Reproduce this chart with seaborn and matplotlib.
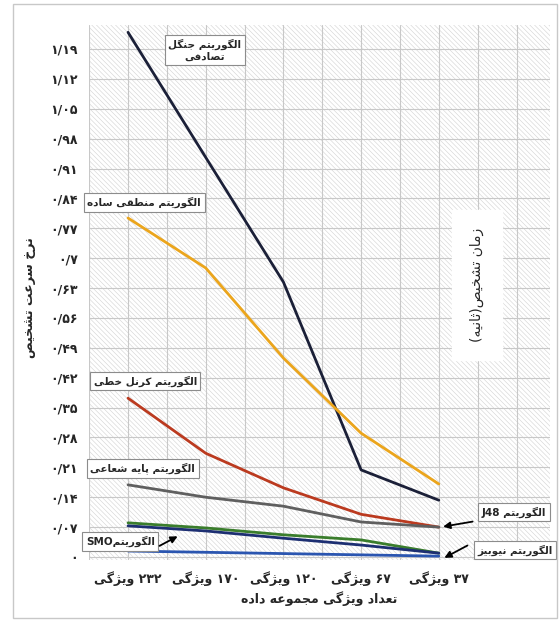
import re
import numpy as np
import pandas as pd
import matplotlib
matplotlib.use('Agg')
import matplotlib.pyplot as plt
import seaborn as sns
from matplotlib.patches import Rectangle

# data
categories = ['۲۳۲ ویژگی', '۱۷۰ ویژگی', '۱۲۰ ویژگی', '۶۷ ویژگی', '۳۷ ویژگی']
random_forest = [1.229, 0.936, 0.644, 0.204, 0.133]
simple_logic = [0.794, 0.677, 0.466, 0.290, 0.171]
linear_kernel = [0.372, 0.243, 0.162, 0.100, 0.070]
radial_basis = [0.169, 0.140, 0.119, 0.082, 0.070]
j48 = [0.080, 0.068, 0.052, 0.040, 0.009]
smo = [0.073, 0.061, 0.044, 0.028, 0.009]
naive_bayes = [0.014, 0.011, 0.008, 0.005, 0.002]
y_ticks = np.arange(0, 1.20, 0.07)
y_tick_labels = ['۰', '۰/۰۷', '۰/۱۴', '۰/۲۱', '۰/۲۸', '۰/۳۵', '۰/۴۲', '۰/۴۹', '۰/۵۶',
                 '۰/۶۳', '۰/۷', '۰/۷۷', '۰/۸۴', '۰/۹۱', '۰/۹۸', '۱/۰۵', '۱/۱۲', '۱/۱۹']

# matplotlib does no arabic shaping / bidi, so do a small version by hand
FORMS = {
    'ا': ('\uFE8D', '\uFE8E', None, None), 'ب': ('\uFE8F', '\uFE90', '\uFE91', '\uFE92'),
    'پ': ('\uFB56', '\uFB57', '\uFB58', '\uFB59'), 'ت': ('\uFE95', '\uFE96', '\uFE97', '\uFE98'),
    'ث': ('\uFE99', '\uFE9A', '\uFE9B', '\uFE9C'), 'ج': ('\uFE9D', '\uFE9E', '\uFE9F', '\uFEA0'),
    'خ': ('\uFEA5', '\uFEA6', '\uFEA7', '\uFEA8'), 'د': ('\uFEA9', '\uFEAA', None, None),
    'ر': ('\uFEAD', '\uFEAE', None, None), 'ز': ('\uFEAF', '\uFEB0', None, None),
    'ژ': ('\uFB8A', '\uFB8B', None, None), 'س': ('\uFEB1', '\uFEB2', '\uFEB3', '\uFEB4'),
    'ش': ('\uFEB5', '\uFEB6', '\uFEB7', '\uFEB8'), 'ص': ('\uFEB9', '\uFEBA', '\uFEBB', '\uFEBC'),
    'ط': ('\uFEC1', '\uFEC2', '\uFEC3', '\uFEC4'), 'ع': ('\uFEC9', '\uFECA', '\uFECB', '\uFECC'),
    'ف': ('\uFED1', '\uFED2', '\uFED3', '\uFED4'), 'ق': ('\uFED5', '\uFED6', '\uFED7', '\uFED8'),
    'ک': ('\uFB8E', '\uFB8F', '\uFB90', '\uFB91'), 'گ': ('\uFB92', '\uFB93', '\uFB94', '\uFB95'),
    'ل': ('\uFEDD', '\uFEDE', '\uFEDF', '\uFEE0'), 'م': ('\uFEE1', '\uFEE2', '\uFEE3', '\uFEE4'),
    'ن': ('\uFEE5', '\uFEE6', '\uFEE7', '\uFEE8'), 'ه': ('\uFEE9', '\uFEEA', '\uFEEB', '\uFEEC'),
    'و': ('\uFEED', '\uFEEE', None, None), 'ی': ('\uFBFC', '\uFBFD', '\uFBFE', '\uFBFF'),
}
MIRROR = {'(': ')', ')': '('}


def shape_line(s):
    out = []
    for i, ch in enumerate(s):
        if ch not in FORMS:
            out.append(ch)
            continue
        prev = s[i - 1] if i > 0 else ''
        nxt = s[i + 1] if i + 1 < len(s) else ''
        join_prev = prev in FORMS and FORMS[prev][2] is not None
        join_next = nxt in FORMS and FORMS[ch][2] is not None
        iso, fin, ini, med = FORMS[ch]
        if join_prev and join_next:
            out.append(med)
        elif join_prev:
            out.append(fin)
        elif join_next:
            out.append(ini)
        else:
            out.append(iso)
    tokens = re.findall(r'[A-Za-z0-9\u06F0-\u06F9/.]+|.', ''.join(out))
    return ''.join(MIRROR.get(t, t) for t in reversed(tokens))


def fa(s):
    return '\n'.join(shape_line(line) for line in s.split('\n'))


series = {
    'الگوریتم جنگل\nتصادفی': random_forest,
    'الگوریتم منطقی ساده': simple_logic,
    'الگوریتم کرنل خطی': linear_kernel,
    'الگوریتم پایه شعاعی': radial_basis,
    'الگوریتم J48': j48,
    'الگوریتمSMO': smo,
    'الگوریتم نیوبیز': naive_bayes,
}
colors = ['#1b2038', '#eba51c', '#bb3a1f', '#5f5f5f', '#3a7d2c', '#1d2f72', '#2a55b0']

df = pd.concat([
    pd.DataFrame({'pos': np.arange(len(categories)), 'time': vals, 'algo': name})
    for name, vals in series.items()
])

sns.set_style('white')
plt.rcParams['font.family'] = ['DejaVu Sans']
plt.rcParams['hatch.linewidth'] = 0.4

fig = plt.figure(figsize=(5.6, 6.22), dpi=100)
ax = fig.add_axes([0.159, 0.0997, 0.823, 0.860])

# hatched background
ax.add_patch(Rectangle((0, 0), 1, 1, transform=ax.transAxes, facecolor='white',
                       edgecolor='#d2d2d2', hatch='\\' * 7, lw=0, zorder=0))

sns.lineplot(data=df, x='pos', y='time', hue='algo', palette=dict(zip(series, colors)),
             linewidth=2, legend=False, sort=False, ax=ax, zorder=3)

ax.set_xlim(-0.502, 5.43)
ax.set_ylim(-0.007, 1.246)
ax.set_xticks(np.arange(len(categories)))
ax.set_xticklabels([fa(c) for c in categories], fontsize=9, fontweight='bold')
ax.set_xticks(np.arange(-0.5, 5.5, 0.5), minor=True)
ax.set_yticks(y_ticks)
ax.set_yticklabels(y_tick_labels, fontsize=9, fontweight='bold')
ax.tick_params(axis='both', which='both', length=0, pad=8)
ax.grid(True, which='both', axis='x', color='#c8c8c8', lw=0.8, zorder=1)
ax.grid(True, which='major', axis='y', color='#c8c8c8', lw=0.8, zorder=1)
ax.set_axisbelow(True)
for sp in ax.spines.values():
    sp.set_visible(False)

ax.set_xlabel(fa('تعداد ویژگی مجموعه داده'), fontsize=9, fontweight='bold', labelpad=4)
ax.set_ylabel(fa('نرخ سرعت تشخیص'), fontsize=9, fontweight='bold')
ax.yaxis.set_label_coords(-0.115, 0.49)

box = dict(boxstyle='square,pad=0.35', facecolor='white', edgecolor='#8c8c8c', lw=0.8)
label_pos = [(0.99, 1.187), (0.206, 0.831), (0.22, 0.412), (0.19, 0.208),
             (4.97, 0.105), (-0.10, 0.037), (4.98, 0.016)]
for name, (lx, ly) in zip(series, label_pos):
    ax.text(lx, ly, fa(name), fontsize=7.5, fontweight='bold', ha='center', va='center',
            bbox=box, zorder=5, linespacing=1.2)

arrow = dict(arrowstyle='-|>', color='black', lw=1.3, mutation_scale=10)
ax.annotate('', xy=(0.67, 0.0515), xytext=(0.373, 0.023), arrowprops=arrow, zorder=5)
ax.annotate('', xy=(4.02, 0.070), xytext=(4.47, 0.084), arrowprops=arrow, zorder=5)
ax.annotate('', xy=(4.04, -0.005), xytext=(4.40, 0.030), arrowprops=arrow, zorder=5)

ax.text(4.49, 0.637, fa('زمان تشخیص(ثانیه)'), rotation=90, fontsize=10,
        ha='center', va='center', zorder=5,
        bbox=dict(boxstyle='square,pad=1.3', facecolor='white', edgecolor='white'))

# light frame round the whole picture
fig.add_artist(Rectangle((13 / 560, 4 / 622), 544 / 560, 614 / 622, transform=fig.transFigure,
                         fill=False, edgecolor='#c8c8c8', lw=1))

fig.savefig('out.png', dpi=100)
